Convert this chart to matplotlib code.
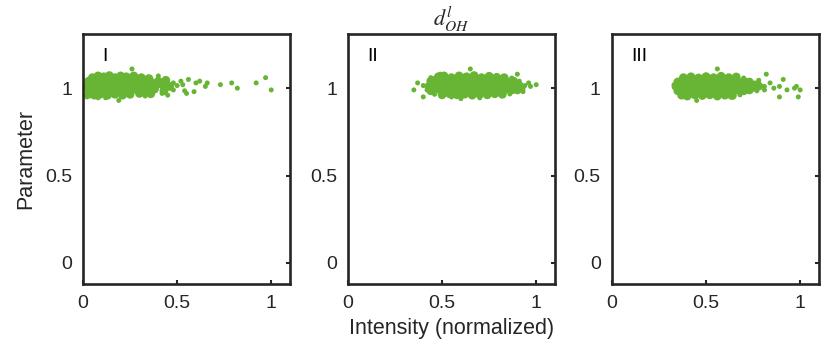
import numpy as np
import matplotlib
matplotlib.use("Agg")
import matplotlib.pyplot as plt

plt.rcParams['font.family'] = ['Liberation Sans', 'DejaVu Sans']
plt.rcParams['mathtext.fontset'] = 'stix'

green = '#68b435'
dark = '#262626'

panel_names = ["I", "II", "III"]
x_ticks = [0, 0.5, 1]
y_ticks = [0, 0.5, 1]
x_tick_labels = ["0", "0.5", "1"]
y_tick_labels = ["0", "0.5", "1"]

# (intensity, parameter): dense core, then the sparse points
core_I = [
    (0.05, 1.060), (0.08, 1.070), (0.11, 1.065), (0.14, 1.072), (0.17, 1.060), (0.20, 1.070),
    (0.23, 1.065), (0.27, 1.070), (0.31, 1.060), (0.35, 1.055),
    (0.03, 1.040), (0.06, 1.045), (0.09, 1.035), (0.12, 1.045), (0.15, 1.040), (0.18, 1.035),
    (0.21, 1.045), (0.24, 1.040), (0.27, 1.035), (0.30, 1.045), (0.33, 1.040), (0.36, 1.035),
    (0.40, 1.040), (0.44, 1.045),
    (0.02, 1.010), (0.05, 1.020), (0.08, 1.015), (0.11, 1.010), (0.14, 1.020), (0.17, 1.015),
    (0.20, 1.010), (0.23, 1.020), (0.26, 1.015), (0.29, 1.010), (0.32, 1.020), (0.35, 1.015),
    (0.38, 1.010), (0.42, 1.020), (0.46, 1.010),
    (0.03, 0.990), (0.06, 0.985), (0.09, 0.995), (0.12, 0.990), (0.15, 0.985), (0.18, 0.995),
    (0.21, 0.990), (0.24, 0.985), (0.27, 0.995), (0.30, 0.990), (0.34, 0.985), (0.38, 0.995),
    (0.43, 0.985),
    (0.03, 0.965), (0.06, 0.960), (0.09, 0.965), (0.13, 0.960), (0.17, 0.965), (0.21, 0.960),
    (0.25, 0.965), (0.30, 0.970), (0.36, 0.968),
]
sparse_I = [
    (0.48, 1.030), (0.50, 1.015), (0.53, 1.020), (0.48, 0.990), (0.54, 0.985), (0.42, 0.970),
    (0.19, 0.930), (0.26, 1.110), (0.40, 1.070), (0.56, 1.050), (0.62, 1.040), (0.59, 0.980),
    (0.65, 1.010), (0.73, 1.020), (0.79, 1.030), (0.82, 1.000), (0.92, 1.030), (0.97, 1.060),
    (1.00, 0.990), (0.08, 0.945), (0.12, 0.945), (0.33, 0.955), (0.45, 0.960), (0.55, 0.970),
    (0.60, 1.030), (0.66, 1.030), (0.02, 0.950), (0.52, 1.040),
]

core_II = [
    (0.48, 1.065), (0.51, 1.070), (0.55, 1.060), (0.59, 1.070), (0.63, 1.065), (0.67, 1.072),
    (0.71, 1.060), (0.75, 1.068), (0.79, 1.062), (0.83, 1.060),
    (0.44, 1.040), (0.46, 1.045), (0.49, 1.035), (0.52, 1.045), (0.55, 1.040), (0.58, 1.035),
    (0.61, 1.045), (0.64, 1.040), (0.67, 1.035), (0.70, 1.045), (0.73, 1.040), (0.76, 1.035),
    (0.79, 1.045), (0.82, 1.040), (0.85, 1.035), (0.88, 1.040),
    (0.43, 1.010), (0.46, 1.020), (0.49, 1.015), (0.52, 1.010), (0.55, 1.020),
    (0.58, 1.015), (0.61, 1.010), (0.64, 1.020), (0.67, 1.015), (0.70, 1.010), (0.73, 1.020),
    (0.76, 1.015), (0.79, 1.010), (0.82, 1.020), (0.85, 1.015), (0.88, 1.010), (0.91, 1.015),
    (0.44, 0.985), (0.48, 0.995), (0.51, 0.990), (0.54, 0.985), (0.57, 0.995),
    (0.60, 0.990), (0.63, 0.985), (0.66, 0.995), (0.69, 0.990), (0.72, 0.985), (0.75, 0.995),
    (0.78, 0.990), (0.81, 0.985), (0.84, 0.995), (0.87, 0.990), (0.90, 0.990),
    (0.50, 0.962), (0.54, 0.968), (0.58, 0.962), (0.62, 0.966), (0.66, 0.960),
    (0.70, 0.965), (0.74, 0.962), (0.78, 0.968), (0.82, 0.965),
]
sparse_II = [
    (0.40, 1.015), (0.42, 0.990), (0.46, 0.965), (0.86, 0.967), (0.91, 1.040), (0.93, 0.995),
    (0.94, 1.015), (0.97, 1.010), (0.87, 1.058),
    (0.37, 1.030), (0.35, 0.990), (0.40, 0.950), (0.49, 1.080), (0.65, 1.110), (0.44, 1.060),
    (0.90, 1.080), (1.00, 1.020), (0.96, 1.030), (0.93, 0.980), (0.60, 0.940), (0.70, 0.945),
    (0.55, 0.950),
]

core_III = [
    (0.38, 1.060), (0.42, 1.065), (0.46, 1.058), (0.50, 1.066), (0.54, 1.060), (0.58, 1.068),
    (0.62, 1.060), (0.66, 1.064),
    (0.35, 1.035), (0.37, 1.040), (0.40, 1.030), (0.43, 1.040), (0.46, 1.035), (0.49, 1.030),
    (0.52, 1.040), (0.55, 1.035), (0.58, 1.030), (0.61, 1.040), (0.64, 1.035), (0.67, 1.030),
    (0.70, 1.040), (0.73, 1.035),
    (0.34, 1.010), (0.36, 1.015), (0.39, 1.005), (0.42, 1.015), (0.45, 1.010), (0.48, 1.005),
    (0.51, 1.015), (0.54, 1.010), (0.57, 1.005), (0.60, 1.015), (0.63, 1.010), (0.66, 1.005),
    (0.69, 1.015), (0.72, 1.010), (0.75, 1.005), (0.78, 1.012),
    (0.35, 0.985), (0.37, 0.980), (0.40, 0.990), (0.43, 0.985), (0.46, 0.980), (0.49, 0.990),
    (0.52, 0.985), (0.55, 0.980), (0.58, 0.990), (0.61, 0.985), (0.64, 0.980), (0.67, 0.990),
    (0.70, 0.985), (0.73, 0.990),
    (0.37, 0.960), (0.40, 0.955), (0.44, 0.962), (0.48, 0.958), (0.52, 0.962), (0.56, 0.955),
    (0.60, 0.960), (0.64, 0.958),
]
sparse_III = [
    (0.33, 1.020), (0.70, 1.058), (0.76, 1.030), (0.81, 1.010), (0.77, 0.985), (0.81, 0.990),
    (0.68, 0.962),
    (0.89, 1.010), (0.91, 1.050), (0.93, 0.990), (0.89, 0.950), (0.97, 1.000), (0.98, 1.010),
    (1.00, 0.990), (0.99, 0.950), (0.82, 1.080), (0.56, 1.110), (0.84, 1.030), (0.45, 0.930),
    (0.86, 1.000), (0.78, 1.045), (0.63, 0.950),
]

cores = [core_I, core_II, core_III]
sparses = [sparse_I, sparse_II, sparse_III]

fig = plt.figure(figsize=(8.27, 3.54), dpi=100)
lefts = [0.1004, 0.4208, 0.740]

for i, (left, core, sparse, name) in enumerate(zip(lefts, cores, sparses, panel_names)):
    ax = fig.add_axes([left, 0.198, 0.2503, 0.706])
    c = np.array(core)
    s = np.array(sparse)
    ax.scatter(c[:, 0], c[:, 1], s=40, color=green, edgecolors='none', zorder=2)
    ax.scatter(s[:, 0], s[:, 1], s=13, color=green, edgecolors='none', zorder=2)
    ax.set_xlim(0, 1.1)
    ax.set_ylim(-0.12, 1.31)
    ax.set_xticks(x_ticks)
    ax.set_xticklabels(x_tick_labels)
    ax.set_yticks(y_ticks)
    ax.set_yticklabels(y_tick_labels)
    ax.tick_params(direction='in', length=3, width=1.5, color=dark, labelcolor=dark,
                   labelsize=14, left=False, right=True, top=False, bottom=True)
    ax.tick_params(axis='y', pad=8)
    ax.tick_params(axis='x', pad=8)
    for sp in ax.spines.values():
        sp.set_linewidth(1.9)
        sp.set_color(dark)
    ax.text(0.1, 1.18, name, fontsize=14, color='black', va='center', ha='left')
    if i == 0:
        ax.set_ylabel("Parameter", fontsize=15.5, color=dark, labelpad=6)
    if i == 1:
        ax.set_xlabel("Intensity (normalized)", fontsize=15.5, color=dark, labelpad=4)
        ax.set_title(r"$d^{l}_{OH}$", fontsize=16, color=dark, pad=4)

fig.savefig("out.png", dpi=100)
